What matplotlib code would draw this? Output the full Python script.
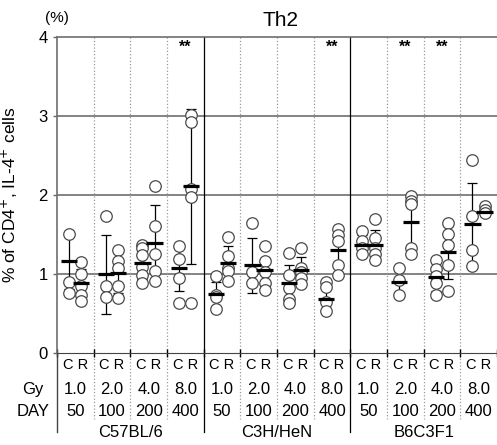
"""
Th2 (CD4+ IL-4+) cells, C vs R, per strain and dose
"""

import numpy as np
from matplotlib import pyplot as plt

plt.rcParams['font.family'] = ['Liberation Sans', 'DejaVu Sans']

STRAINS = ["C57BL/6", "C3H/HeN", "B6C3F1"]
GY = ["1.0", "2.0", "4.0", "8.0"]
DAYS = ["50", "100", "200", "400"]

# one entry per group (strain x dose)
c_points = [
    [1.51, 0.90, 0.76],
    [1.74, 0.85, 0.71],
    [1.37, 1.33, 1.24, 1.09, 0.99, 0.88],
    [1.35, 1.19, 0.95, 0.63],
    [0.97, 0.74, 0.71, 0.56],
    [1.65, 1.02, 0.89],
    [1.26, 0.99, 0.82, 0.69, 0.63],
    [0.90, 0.84, 0.64, 0.53],
    [1.54, 1.42, 1.33, 1.25],
    [1.08, 0.93, 0.74],
    [1.18, 1.06, 0.97, 0.89, 0.74],
    [2.44, 1.74, 1.30, 1.10],
]
c_mean = [1.16, 1.00, 1.14, 1.07, 0.75, 1.11, 0.89, 0.68, 1.37, 0.90, 0.96, 1.63]
c_sd = [0.35, 0.50, 0.20, 0.29, 0.15, 0.35, 0.22, 0.15, 0.12, 0.14, 0.18, 0.52]

r_points = [
    [1.15, 1.00, 0.85, 0.73, 0.66],
    [1.30, 1.16, 1.07, 0.85, 0.70],
    [2.11, 1.61, 1.25, 1.04, 0.91],
    [3.01, 2.93, 2.08, 1.97, 0.63],
    [1.47, 1.23, 1.08, 1.04, 0.91],
    [1.35, 1.16, 1.02, 0.89, 0.80],
    [1.33, 1.08, 1.02, 0.95, 0.87],
    [1.57, 1.50, 1.42, 1.12, 0.99],
    [1.70, 1.45, 1.33, 1.25, 1.18],
    [1.99, 1.92, 1.88, 1.33, 1.25],
    [1.64, 1.51, 1.37, 1.11, 0.79],
    [1.86, 1.81, 1.77],
]
r_mean = [0.88, 1.01, 1.39, 2.11, 1.14, 1.05, 1.05, 1.31, 1.37, 1.66, 1.28, 1.79]
r_sd = [0.18, 0.25, 0.48, 0.98, 0.21, 0.15, 0.17, 0.20, 0.19, 0.34, 0.34, 0.05]

significant = [3, 7, 9, 10]

N_GROUPS = 12
C_OFF = 0.33
R_OFF = 0.66
BAR_HALF = 0.22

fig = plt.figure(figsize=(4.97, 4.45), dpi=100)
ax = fig.add_axes([0.1147, 0.2067, 0.8853, 0.7102])


def draw_group(ax, x, points, mean, sd):
    ax.errorbar([x], [mean], yerr=[sd], fmt='none', ecolor='black',
                elinewidth=0.9, capsize=3.6, capthick=0.9, zorder=2)
    ax.plot([x] * len(points), points, 'o', ms=8.3, mfc='white', mec='#4a4a4a',
            mew=0.9, zorder=3)
    ax.hlines(mean, x - BAR_HALF, x + BAR_HALF, color='black', lw=2.3, zorder=4)


for i in range(N_GROUPS):
    draw_group(ax, i + C_OFF, c_points[i], c_mean[i], c_sd[i])
    draw_group(ax, i + R_OFF, r_points[i], r_mean[i], r_sd[i])
    if i in significant:
        ax.text(i + 0.5, 3.87, "**", ha='center', va='center', fontsize=11.5,
                fontweight='bold')

ax.set_xlim(0, N_GROUPS)
ax.set_ylim(0, 4)
ax.set_yticks(np.arange(0, 5, 1))
ax.tick_params(axis='y', labelsize=12, length=3, width=1, color='#666666')
ax.set_xticks(np.arange(0, N_GROUPS + 1, 1))
ax.set_xticklabels([])
ax.tick_params(axis='x', direction='inout', length=6, width=1)

for y in [1, 2, 3]:
    ax.axhline(y, color='#6e6e6e', lw=1.2, zorder=1)
ax.spines['top'].set_color('#6e6e6e')
ax.spines['top'].set_linewidth(1.2)
ax.spines['left'].set_color('#6e6e6e')
ax.spines['left'].set_linewidth(1.2)
ax.spines['right'].set_visible(False)
ax.spines['bottom'].set_color('#444444')

trans = ax.get_xaxis_transform()
for i in range(1, N_GROUPS):
    if i % 4 == 0:
        ax.plot([i, i], [1, -0.25], color='black', lw=0.9, transform=trans,
                clip_on=False, zorder=1)
    else:
        ax.plot([i, i], [1, -0.21], color='#999999', lw=0.9, ls=':',
                transform=trans, clip_on=False, zorder=1)
ax.plot([0, 0], [0, -0.25], color='#444444', lw=1.0, transform=trans,
        clip_on=False)

for i in range(N_GROUPS):
    ax.text(i + 0.5, -0.037, "C R", ha='center', va='center', fontsize=10.5,
            transform=trans)
    ax.text(i + 0.5, -0.117, GY[i % 4], ha='center', va='center', fontsize=12,
            transform=trans)
    ax.text(i + 0.5, -0.184, DAYS[i % 4], ha='center', va='center',
            fontsize=12, transform=trans)
for k, name in enumerate(STRAINS):
    ax.text(4 * k + 2, -0.25, name, ha='center', va='center', fontsize=12,
            transform=trans)

ax.text(-0.055, -0.117, "Gy", ha='center', va='center', fontsize=12,
        transform=ax.transAxes)
ax.text(-0.055, -0.184, "DAY", ha='center', va='center', fontsize=12,
        transform=ax.transAxes)

ax.text(0.0, 1.06, "(%)", ha='center', va='center', fontsize=11,
        transform=ax.transAxes)
ax.text(0.507, 1.053, "Th2", ha='center', va='center', fontsize=15,
        transform=ax.transAxes)

ax.set_ylabel("% of CD4$^{+}$, IL-4$^{+}$ cells", fontsize=12.5)
ax.yaxis.set_label_coords(-0.084, 0.5)

fig.savefig("out.png", dpi=100)
